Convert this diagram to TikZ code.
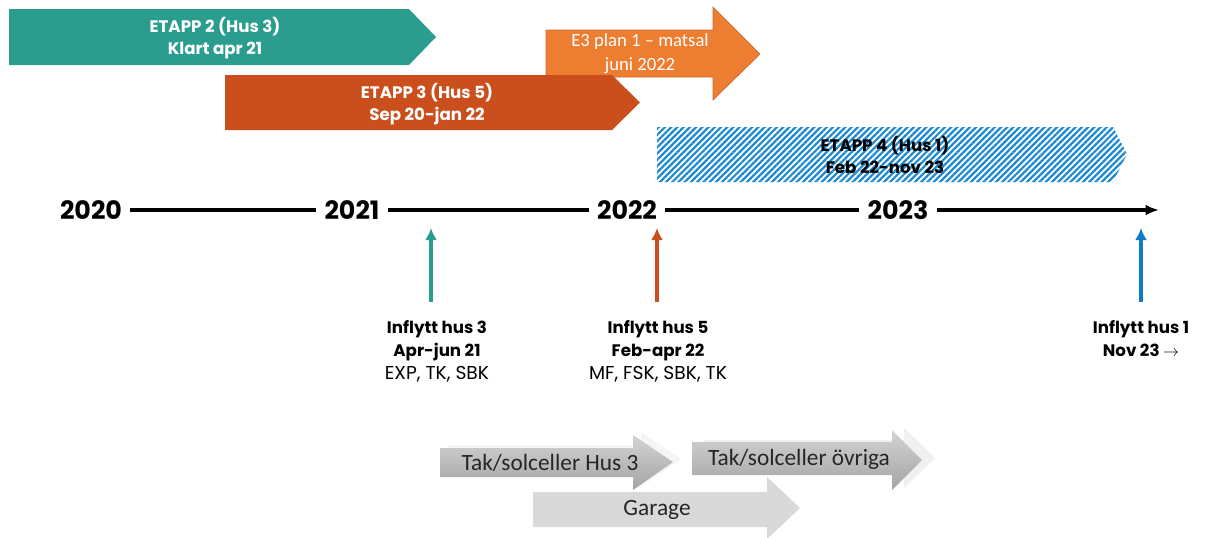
\documentclass[tikz,border=0pt]{standalone}
\usepackage{fontspec}
\setmainfont{Poppins}
\newfontfamily\calib{Carlito}
\usetikzlibrary{arrows.meta,patterns.meta}

\tikzset{
  banner/.style={text=white,align=center,font=\bfseries\fontsize{12.5}{16}\selectfont},
  yearlbl/.style={font=\bfseries\fontsize{19}{19}\selectfont,inner xsep=6pt,inner ysep=2pt},
  timeline/.style={line width=2.3pt},
  upline/.style={-{Latex[length=9pt,width=9pt]},line width=2.8pt},
  infl/.style={align=center,font=\bfseries\fontsize{12.5}{17.25}\selectfont},
  greytxt/.style={font=\calib\fontsize{17.5}{18}\selectfont,text=black!85}
}

\begin{document}
\begin{tikzpicture}[x=0.75pt,y=-0.75pt,>={Latex[length=11pt,width=9pt]}]
\definecolor{tealgreen}{HTML}{2A9D8F}
\definecolor{rustred}{HTML}{CA4F1C}
\definecolor{orangeE}{HTML}{ED7D31}
\definecolor{hatchblue}{HTML}{1F8AD0}
\definecolor{arrowblue}{HTML}{0E7CC9}
\useasboundingbox (0,0) rectangle (1206,537);

% etapp 2
\fill[tealgreen] (9,9) -- (409,9) -- (436,37) -- (409,65) -- (9,65) -- cycle;
\node[banner] (e2) at (215,38) {ETAPP 2 (Hus 3)\\Klart apr 21};

% E3 plan 1
\fill[orangeE,draw=orangeE!85!black,line width=0.5pt] (546,30) -- (713,30) -- (713,7) -- (760,54) -- (713,100) -- (713,77) -- (546,77) -- cycle;
\node[text=white,align=center,font=\calib\fontsize{14}{18}\selectfont] (e3p) at (640,54) {E3 plan 1 – matsal\\juni 2022};

% etapp 3
\fill[rustred] (225,75) -- (612,75) -- (640,102.5) -- (612,130) -- (225,130) -- cycle;
\node[banner] (e3) at (427,104) {ETAPP 3 (Hus 5)\\Sep 20-jan 22};

% etapp 4
\fill[pattern={Lines[angle=45,distance=3.3pt,line width=1.7pt]},pattern color=hatchblue] (657,127) -- (1113,127) -- (1127,154) -- (1113,182) -- (657,182) -- cycle;
\node[banner,text=black] (e4) at (885,155) {ETAPP 4 (Hus 1)\\Feb 22-nov 23};

% tidslinje
\node[yearlbl] (y20) at (91,210) {2020};
\node[yearlbl] (y21) at (352,210) {2021};
\node[yearlbl] (y22) at (627,210) {2022};
\node[yearlbl] (y23) at (898,210) {2023};
\coordinate (tend) at (1159,210);
\draw[timeline] (y20) -- (y21);
\draw[timeline] (y21) -- (y22);
\draw[timeline] (y22) -- (y23);
\draw[timeline,-{Latex[length=10pt,width=8pt]}] (y23) -- (tend);

% inflytt
\coordinate (a3s) at (431,302);
\coordinate (a3e) at (431,228);
\coordinate (a5s) at (657,302);
\coordinate (a5e) at (657,228);
\coordinate (a1s) at (1141,302);
\coordinate (a1e) at (1141,228);
\draw[upline,tealgreen] (a3s) -- (a3e);
\draw[upline,rustred] (a5s) -- (a5e);
\draw[upline,arrowblue] (a1s) -- (a1e);
\node[infl] (in3) at (437,351) {Inflytt hus 3\\Apr-jun 21\\{\mdseries\fontsize{14}{17.25}\selectfont EXP, TK, SBK}};
\node[infl] (in5) at (658,351) {Inflytt hus 5\\Feb-apr 22\\{\mdseries\fontsize{14}{17.25}\selectfont MF, FSK, SBK, TK}};
\node[infl] (in1) at (1141,339) {Inflytt hus 1\\Nov 23 $\rightarrow$};

% tak och garage
\fill[black!15] (533,492) -- (767,492) -- (767,477) -- (800,508) -- (767,539) -- (767,527) -- (533,527) -- cycle;
\node[greytxt] (gar) at (657,510) {Garage};
\fill[black!4] (448,445) -- (641,445) -- (641,432) -- (681,459) -- (641,487) -- (641,474) -- (448,474) -- cycle;
\fill[black!6] (704,440) -- (904,440) -- (904,428) -- (935,458) -- (904,488) -- (904,473) -- (704,473) -- cycle;
\shade[top color=black!17,bottom color=black!36] (440,448) -- (633,448) -- (633,435) -- (673,462) -- (633,490) -- (633,477) -- (440,477) -- cycle;
\node[greytxt] (tak3) at (550,463) {Tak/solceller Hus 3};
\shade[top color=black!17,bottom color=black!36] (692,442) -- (892,442) -- (892,430) -- (922,460) -- (892,490) -- (892,475) -- (692,475) -- cycle;
\node[greytxt] (takov) at (799,459) {Tak/solceller övriga};
\end{tikzpicture}
\end{document}
